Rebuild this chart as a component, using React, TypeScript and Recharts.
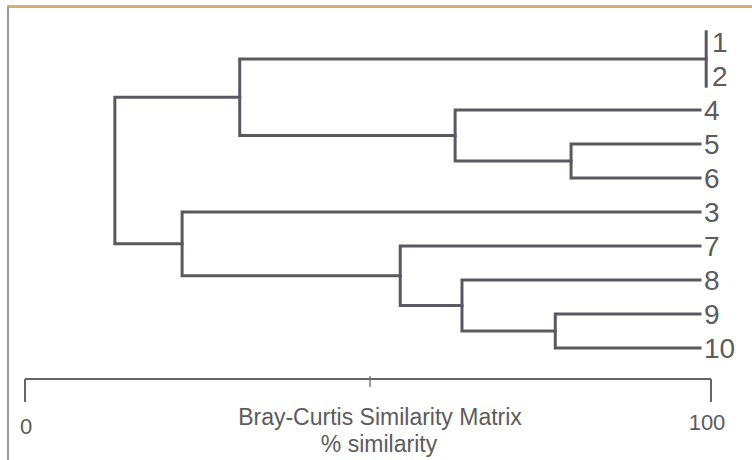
import { ComposedChart, Line, XAxis, YAxis, Label } from 'recharts';

// leaf order top -> bottom
const LEAVES = ['1', '2', '4', '5', '6', '3', '7', '8', '9', '10'];
const LEAF_END = 98.4;

// merges (left child, right child, % similarity)
const MERGE_IDS = ['A', 'B', 'C', 'D', 'E', 'F', 'G', 'H', 'R'];
const MERGE_LEFT = ['1', '5', '4', 'A', '9', '8', '7', '3', 'D'];
const MERGE_RIGHT = ['2', '6', 'B', 'C', '10', 'E', 'F', 'G', 'H'];
const MERGE_SIM = [99.3, 79.6, 62.7, 31.3, 77.3, 63.7, 54.7, 22.9, 13.1];

const X_TICKS = [0, 50, 100];
const Y_DOMAIN: [number, number] = [-1, 9.912];

const LINE_COLOR = '#5c5862';
const TEXT_COLOR = '#5c5c5c';
const FONT = "'Liberation Sans', Arial, sans-serif";

type Pt = { x: number; y: number };

// leaves joined right at the edge sit behind a bracket, so their labels move right
const bracketLeaves = new Set<string>();

function buildPaths() {
  const nodes: Record<string, Pt> = {};
  LEAVES.forEach((name, i) => {
    nodes[name] = { x: LEAF_END, y: i };
  });
  return MERGE_IDS.map((id, i) => {
    const a = nodes[MERGE_LEFT[i]];
    const b = nodes[MERGE_RIGHT[i]];
    const h = MERGE_SIM[i];
    let pts: Pt[];
    if (h > a.x) {
      bracketLeaves.add(MERGE_LEFT[i]);
      bracketLeaves.add(MERGE_RIGHT[i]);
      pts = [
        { x: h, y: a.y - 0.3 },
        { x: h, y: b.y + 0.3 },
      ];
    } else {
      pts = [
        { x: a.x, y: a.y },
        { x: h, y: a.y },
        { x: h, y: b.y },
        { x: b.x, y: b.y },
      ];
    }
    nodes[id] = { x: h, y: (a.y + b.y) / 2 };
    return { id, pts };
  });
}

const PATHS = buildPaths();

const SimTick = (props: any) => {
  const { x, y, payload } = props;
  if (payload.value === 50) {
    return <line x1={x + 2} x2={x + 2} y1={y - 3} y2={y + 8} stroke="#777" strokeWidth={1.5} />;
  }
  return (
    <g>
      <line x1={x} x2={x} y1={y} y2={y + 23} stroke="#666" strokeWidth={2} />
      <text
        x={x + (payload.value === 0 ? 1 : -4)}
        y={y + (payload.value === 0 ? 55 : 51)}
        textAnchor="middle"
        fontSize={22}
        fontFamily={FONT}
        fill={TEXT_COLOR}
      >
        {payload.value}
      </text>
    </g>
  );
};

const LeafTick = (props: any) => {
  const { x, y, payload } = props;
  const name = LEAVES[payload.value];
  const shift = bracketLeaves.has(name) ? 8 : 0;
  return (
    <text x={x - 7 + shift} y={y} dy="0.36em" fontSize={28} fontFamily={FONT} fill={TEXT_COLOR}>
      {name}
    </text>
  );
};

const AxisTitle = (props: any) => {
  const { x, y, width } = props.viewBox;
  const cx = x + width / 2 + 12;
  return (
    <g fontFamily={FONT} fontSize={23} fill={TEXT_COLOR} textAnchor="middle">
      <text x={cx} y={y + 46}>Bray-Curtis Similarity Matrix</text>
      <text x={cx - 1} y={y + 73}>% similarity</text>
    </g>
  );
};

export default function App() {
  return (
    <div style={{ position: 'absolute', left: 0, top: 0, width: 752, height: 460, background: '#fff', overflow: 'hidden' }}>
      {/* scanned frame */}
      <div style={{ position: 'absolute', left: 7, top: 5, width: 745, height: 2, background: '#dcae78' }} />
      <div style={{ position: 'absolute', left: 7, top: 7, width: 745, height: 1, background: '#a8b0ba' }} />
      <div style={{ position: 'absolute', left: 7, top: 7, width: 2, height: 453, background: '#9a9a9a' }} />
      <ComposedChart width={752} height={460} margin={{ top: 8, right: 0, bottom: 0, left: 25 }}>
        <XAxis
          type="number"
          dataKey="x"
          domain={[0, 100]}
          ticks={X_TICKS}
          interval={0}
          height={81}
          tickSize={0}
          tickMargin={0}
          tickLine={false}
          axisLine={{ stroke: '#666', strokeWidth: 2 }}
          tick={SimTick}
          allowDataOverflow
        >
          <Label content={AxisTitle} />
        </XAxis>
        <YAxis
          type="number"
          dataKey="y"
          orientation="right"
          domain={Y_DOMAIN}
          reversed
          allowDataOverflow
          ticks={LEAVES.map((_, i) => i)}
          interval={0}
          width={41}
          tickSize={0}
          tickMargin={0}
          axisLine={false}
          tickLine={false}
          tick={LeafTick}
        />
        {PATHS.map((p) => (
          <Line
            key={p.id}
            data={p.pts}
            dataKey="y"
            type="linear"
            stroke={LINE_COLOR}
            strokeWidth={3}
            strokeLinejoin="miter"
            strokeLinecap="square"
            dot={false}
            activeDot={false}
            isAnimationActive={false}
          />
        ))}
      </ComposedChart>
    </div>
  );
}
